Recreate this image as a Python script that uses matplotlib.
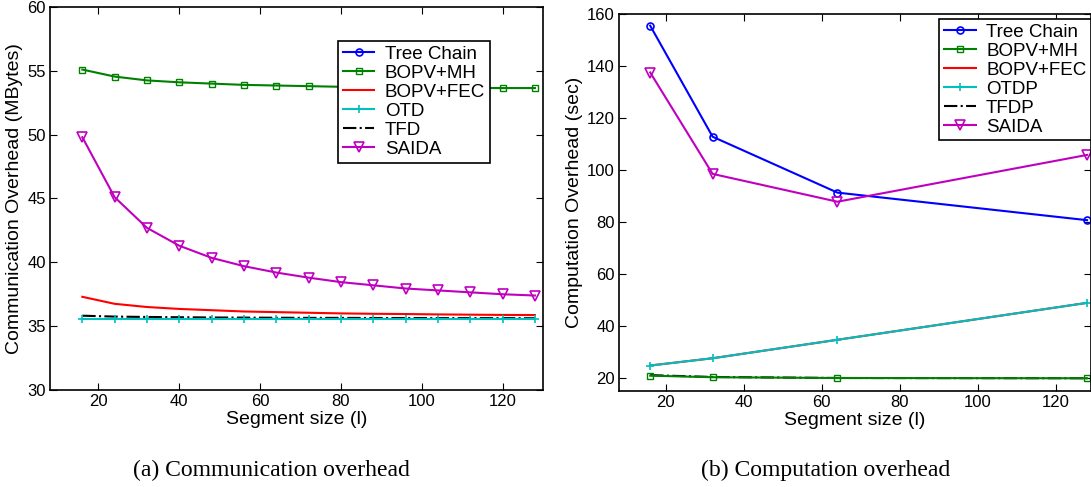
import matplotlib
matplotlib.use('Agg')
import matplotlib.pyplot as plt

plt.rcParams['font.family'] = ['Liberation Sans', 'DejaVu Sans']

# (a) communication overhead
seg_a = [16, 24, 32, 40, 48, 56, 64, 72, 80, 88, 96, 104, 112, 120, 128]
bopv_mh_a = [55.1, 54.55, 54.25, 54.1, 54.0, 53.9, 53.85, 53.8, 53.75, 53.72, 53.7, 53.68, 53.66, 53.65, 53.65]
bopv_fec_a = [37.3, 36.75, 36.5, 36.35, 36.25, 36.15, 36.1, 36.05, 36.0, 35.97, 35.95, 35.92, 35.9, 35.88, 35.87]
otd_a = [35.6, 35.6, 35.6, 35.6, 35.6, 35.6, 35.6, 35.6, 35.6, 35.6, 35.6, 35.6, 35.6, 35.6, 35.6]
tfd_a = [35.82, 35.75, 35.72, 35.7, 35.68, 35.67, 35.66, 35.65, 35.65, 35.64, 35.64, 35.63, 35.63, 35.63, 35.62]
saida_a = [49.8, 45.1, 42.7, 41.3, 40.35, 39.7, 39.2, 38.8, 38.45, 38.2, 37.95, 37.8, 37.65, 37.5, 37.4]

# (b) computation overhead
seg_b = [16, 32, 64, 128]
tree_b = [155.5, 112.8, 91.3, 80.7]
bopv_mh_b = [20.9, 20.3, 20.0, 19.9]
bopv_fec_b = [24.8, 27.6, 34.7, 48.9]
otdp_b = [24.8, 27.6, 34.7, 48.9]
tfdp_b = [21.1, 20.4, 20.0, 19.9]
saida_b = [137.5, 98.5, 87.8, 105.8]

W, H = 1091, 487
fig = plt.figure(figsize=(W / 100, H / 100), dpi=100)
ax1 = fig.add_axes([50 / W, 97 / H, 493 / W, 383 / H])
ax2 = fig.add_axes([619 / W, 96 / H, 472 / W, 377 / H])

lw = 1.5
tick_fs = 12
lab_fs = 14
leg_fs = 13.5

# left
ax1.plot([], [], color='#0000ff', lw=lw, marker='o', mfc='none', ms=5, mew=1.2, label='Tree Chain')
ax1.plot(seg_a, bopv_mh_a, color='#008000', lw=lw, marker='s', mfc='none', ms=4, mew=1.0, label='BOPV+MH')
ax1.plot(seg_a, bopv_fec_a, color='#ff0000', lw=lw, label='BOPV+FEC')
ax1.plot(seg_a, tfd_a, color='black', lw=lw, ls='-.', label='_tfd')
ax1.plot(seg_a, otd_a, color='#00bfbf', lw=lw, marker='+', ms=6, mew=1.2, label='OTD')
ax1.plot([], [], color='black', lw=lw, ls='-.', label='TFD')
ax1.plot(seg_a, saida_a, color='#bf00bf', lw=lw, marker='v', mfc='none', ms=6.5, mew=1.2, label='SAIDA')
ax1.set_xlim(8, 130)
ax1.set_ylim(30, 60)
ax1.set_xticks([20, 40, 60, 80, 100, 120])
ax1.set_yticks([30, 35, 40, 45, 50, 55, 60])
ax1.set_xlabel('Segment size (l)', fontsize=lab_fs, labelpad=1)
ax1.set_ylabel('Communication Overhead (MBytes)', fontsize=lab_fs, labelpad=3)
leg1 = ax1.legend(loc='upper left', bbox_to_anchor=(0.584, 0.911), fontsize=leg_fs,
                  frameon=True, fancybox=False, edgecolor='black', framealpha=1,
                  handlelength=1.7, borderpad=0.25, labelspacing=0.1,
                  handletextpad=0.55, borderaxespad=0)
leg1.get_frame().set_linewidth(1.2)

# right
ax2.plot(seg_b, tree_b, color='#0000ff', lw=lw, marker='o', mfc='none', ms=5, mew=1.2, label='Tree Chain')
ax2.plot(seg_b, bopv_fec_b, color='#ff0000', lw=lw, label='_fec')
ax2.plot(seg_b, otdp_b, color='#00bfbf', lw=lw, marker='+', ms=6, mew=1.2, label='_otdp')
ax2.plot(seg_b, tfdp_b, color='black', lw=lw, ls='-.', label='_tfdp')
ax2.plot(seg_b, bopv_mh_b, color='#008000', lw=lw, marker='s', mfc='none', ms=4, mew=1.0, label='BOPV+MH')
ax2.plot([], [], color='#ff0000', lw=lw, label='BOPV+FEC')
ax2.plot([], [], color='#00bfbf', lw=lw, marker='+', ms=6, mew=1.2, label='OTDP')
ax2.plot([], [], color='black', lw=lw, ls='-.', label='TFDP')
ax2.plot(seg_b, saida_b, color='#bf00bf', lw=lw, marker='v', mfc='none', ms=6.5, mew=1.2, label='SAIDA')
ax2.set_xlim(8, 129)
ax2.set_ylim(15, 160)
ax2.set_xticks([20, 40, 60, 80, 100, 120])
ax2.set_yticks([20, 40, 60, 80, 100, 120, 140, 160])
ax2.set_xlabel('Segment size (l)', fontsize=lab_fs, labelpad=1)
ax2.set_ylabel('Computation Overhead (sec)', fontsize=lab_fs, labelpad=3)
leg2 = ax2.legend(loc='upper right', bbox_to_anchor=(1.0, 0.987), fontsize=leg_fs,
                  frameon=True, fancybox=False, edgecolor='black', framealpha=1,
                  handlelength=1.7, borderpad=0.25, labelspacing=0.1,
                  handletextpad=0.55, borderaxespad=0)
leg2.get_frame().set_linewidth(1.2)

for ax in (ax1, ax2):
    ax.tick_params(direction='in', top=True, right=True, labelsize=tick_fs, length=5, pad=3)
    for s in ax.spines.values():
        s.set_linewidth(1.2)

fig.text(271 / W, 1 - 470 / H, '(a) Communication overhead', fontsize=17,
         family=['Liberation Serif', 'DejaVu Serif'], ha='center', va='center')
fig.text(826 / W, 1 - 470 / H, '(b) Computation overhead', fontsize=17,
         family=['Liberation Serif', 'DejaVu Serif'], ha='center', va='center')

fig.savefig('out.png', dpi=100)
